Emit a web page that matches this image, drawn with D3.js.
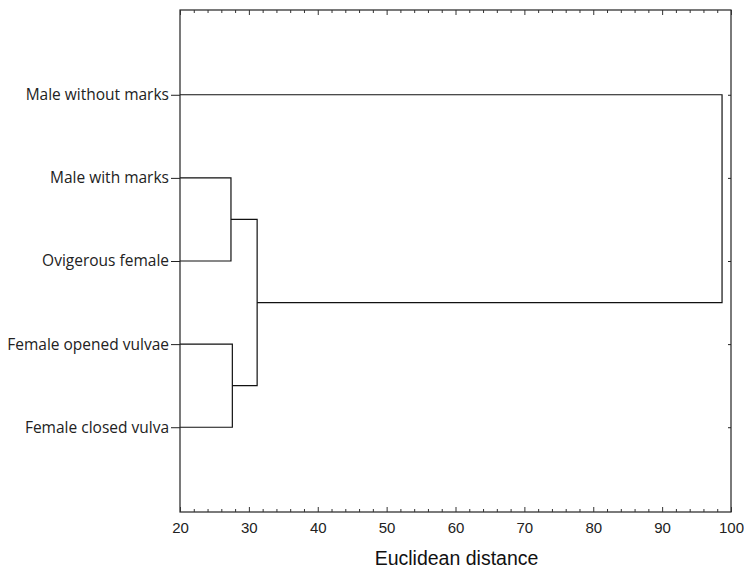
<!DOCTYPE html>
<html>
<head>
<meta charset="utf-8">
<script src="https://cdn.jsdelivr.net/npm/d3@7"></script>
<style>
  body { margin: 0; background: #fff; }
  svg { display: block; }
</style>
</head>
<body>
<svg id="chart"></svg>
<script>
// leaf labels, top to bottom
const leaves = ["Male without marks", "Male with marks", "Ovigerous female",
  "Female opened vulvae", "Female closed vulva"];
// merge steps: [child a, child b, distance]; leaves are 0..4, new clusters 5, 6, ...
const merges = [
  [1, 2, 27.4],
  [3, 4, 27.6],
  [5, 6, 31.2],
  [0, 7, 98.7]
];
const xTicks = [20, 30, 40, 50, 60, 70, 80, 90, 100];

const width = 744, height = 569;
const marginTop = 10, marginRight = 13, marginBottom = 57, marginLeft = 180;

const svg = d3.select("#chart")
  .attr("width", width)
  .attr("height", height)
  .attr("viewBox", [0, 0, width, height]);

const x = d3.scaleLinear([20, 100], [marginLeft, width - marginRight]);
const y = d3.scalePoint(leaves, [marginTop, height - marginBottom]).padding(1.02);

// node positions: leaves first, then merges
const nodes = leaves.map(d => ({ x: x(20), y: y(d) }));
merges.forEach(([a, b, h]) => {
  nodes.push({ x: x(h), y: (nodes[a].y + nodes[b].y) / 2, a, b });
});

// dendrogram links
const g = svg.append("g")
  .attr("fill", "none")
  .attr("stroke", "#111")
  .attr("stroke-width", 1.2);

nodes.filter(n => n.a !== undefined).forEach(n => {
  const A = nodes[n.a], B = nodes[n.b];
  g.append("path")
    .attr("d", `M${A.x},${A.y}H${n.x}V${B.y}H${B.x}`);
});

const plotW = width - marginLeft - marginRight;
const plotH = height - marginTop - marginBottom;
const minor = d3.range(20, 100.1, 2);

// frame
svg.append("rect")
  .attr("x", marginLeft).attr("y", marginTop)
  .attr("width", plotW).attr("height", plotH)
  .attr("fill", "none").attr("stroke", "#222").attr("stroke-width", 1.2);

// bottom axis (inward ticks)
svg.append("g")
  .attr("transform", `translate(0,${height - marginBottom})`)
  .call(d3.axisBottom(x).tickValues(minor).tickSize(-3).tickFormat(""))
  .call(a => a.select(".domain").remove())
  .call(a => a.selectAll(".tick line")
    .attr("y2", d => d % 10 === 0 ? -5 : -3).attr("stroke", "#333"));

svg.append("g")
  .attr("transform", `translate(0,${height - marginBottom})`)
  .call(d3.axisBottom(x).tickValues(xTicks).tickSize(0).tickPadding(10))
  .call(a => a.select(".domain").remove())
  .call(a => a.selectAll("text")
    .attr("font-family", "Liberation Sans, Arial, sans-serif")
    .attr("font-size", 15).attr("fill", "#222"));

// top axis (inward ticks)
svg.append("g")
  .attr("transform", `translate(0,${marginTop})`)
  .call(d3.axisTop(x).tickValues(minor).tickSize(-3).tickFormat(""))
  .call(a => a.select(".domain").remove())
  .call(a => a.selectAll(".tick line")
    .attr("y2", d => d % 10 === 0 ? 5 : 3).attr("stroke", "#333"));

// left axis with labels
svg.append("g")
  .attr("transform", `translate(${marginLeft},0)`)
  .call(d3.axisLeft(y).tickSize(9).tickPadding(2))
  .call(a => a.select(".domain").remove())
  .call(a => a.selectAll(".tick line").attr("stroke", "#222"))
  .call(a => a.selectAll("text")
    .attr("font-family", "Open Sans, sans-serif")
    .attr("font-size", 15.5).attr("fill", "#222"));

// right axis (inward ticks)
svg.append("g")
  .attr("transform", `translate(${width - marginRight},0)`)
  .call(d3.axisRight(y).tickSize(-3).tickFormat(""))
  .call(a => a.select(".domain").remove())
  .call(a => a.selectAll(".tick line").attr("stroke", "#222"));

// axis title
svg.append("text")
  .attr("x", (marginLeft + width - marginRight) / 2 + 1)
  .attr("y", height - 4)
  .attr("text-anchor", "middle")
  .attr("font-family", "Liberation Sans, Arial, sans-serif")
  .attr("font-size", 19.5)
  .attr("fill", "#111")
  .text("Euclidean distance");
</script>
</body>
</html>
